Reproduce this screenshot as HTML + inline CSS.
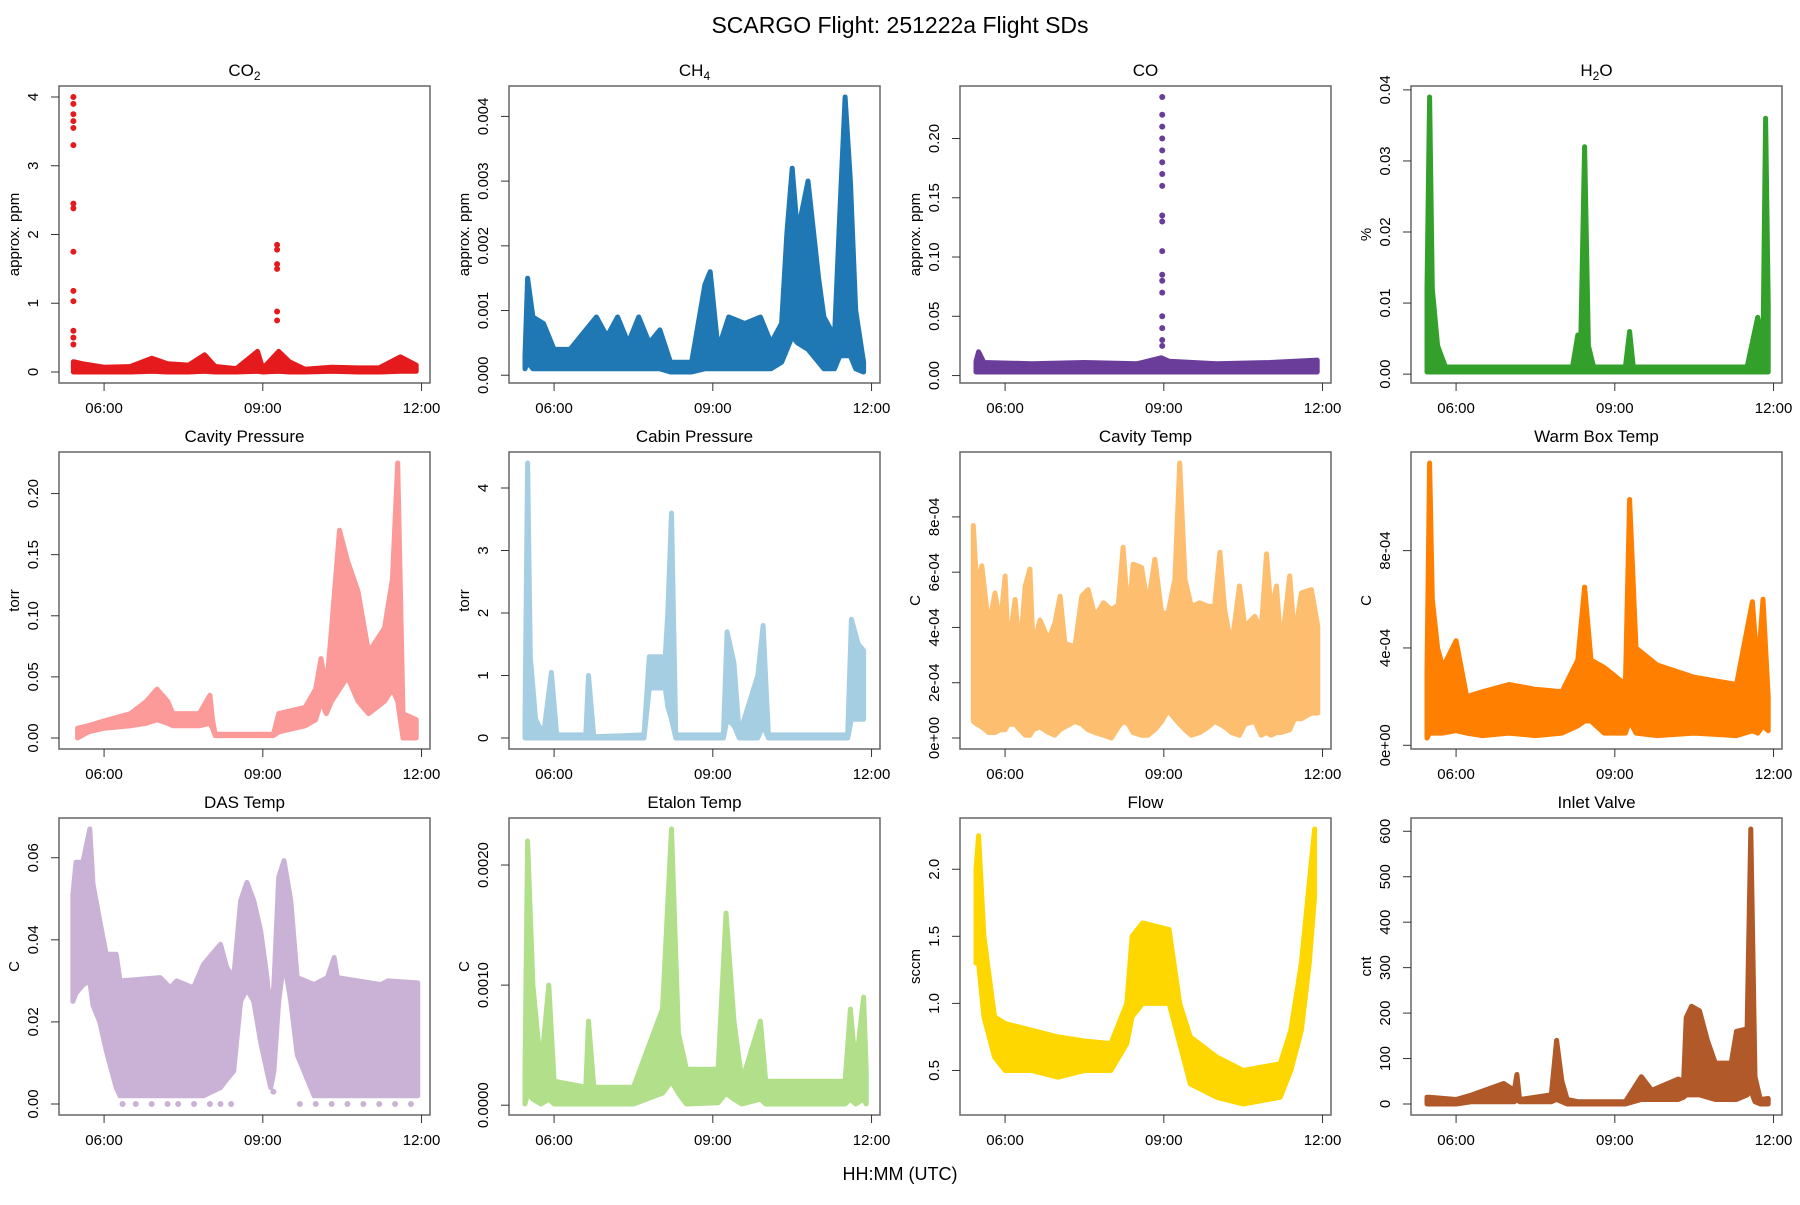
<!DOCTYPE html>
<html><head><meta charset="utf-8"><style>
body{margin:0;background:#fff;width:1800px;height:1200px;overflow:hidden}
svg{font-family:"Liberation Sans",Arial,sans-serif}
</style></head><body>
<svg id="chart" width="1800" height="1200" xmlns="http://www.w3.org/2000/svg">
<rect width="1800" height="1200" fill="#fff"/>
<text x="900" y="33" text-anchor="middle" font-size="23">SCARGO Flight: 251222a  Flight SDs</text>
<text x="900" y="1180" text-anchor="middle" font-size="18">HH:MM (UTC)</text>
</svg>
<script>
// x tick values (hours) and labels
const xTicks=[6,9,12];
const xTickLabels=["06:00","09:00","12:00"];
const panelTitles=["CO2","CH4","CO","H2O","Cavity Pressure","Cabin Pressure","Cavity Temp","Warm Box Temp","DAS Temp","Etalon Temp","Flow","Inlet Valve"];
const yLabels=["approx. ppm","approx. ppm","approx. ppm","%","torr","torr","C","C","C","C","sccm","cnt"];
const colors=["#E41A1C","#1F78B4","#6A3D9A","#33A02C","#FB9A99","#A6CEE3","#FDBF6F","#FF7F00","#CAB2D6","#B2DF8A","#FFD700","#B15928"];
const yTickVals=[[0,1,2,3,4],[0,0.001,0.002,0.003,0.004],[0,0.05,0.1,0.15,0.2],[0,0.01,0.02,0.03,0.04],[0,0.05,0.1,0.15,0.2],[0,1,2,3,4],[0,0.0002,0.0004,0.0006,0.0008],[0,0.0004,0.0008],[0,0.02,0.04,0.06],[0,0.001,0.002],[0.5,1,1.5,2],[0,100,200,300,400,500,600]];
const yTickText=[["0","1","2","3","4"],["0.000","0.001","0.002","0.003","0.004"],["0.00","0.05","0.10","0.15","0.20"],["0.00","0.01","0.02","0.03","0.04"],["0.00","0.05","0.10","0.15","0.20"],["0","1","2","3","4"],["0e+00","2e-04","4e-04","6e-04","8e-04"],["0e+00","4e-04","8e-04"],["0.00","0.02","0.04","0.06"],["0.0000","0.0010","0.0020"],["0.5","1.0","1.5","2.0"],["0","100","200","300","400","500","600"]];

// Series envelopes: time (h), low, high
const co2T=[5.42,5.6,6.0,6.5,6.9,7.2,7.6,7.9,8.1,8.5,8.9,9.0,9.3,9.5,9.8,10.3,10.8,11.2,11.6,11.9];
const co2Lo=[0,0,0,0,0.01,0,0,0.01,0,0,0.01,0,0.01,0,0,0.01,0,0,0.01,0.01];
const co2Hi=[0.15,0.12,0.07,0.08,0.2,0.12,0.1,0.25,0.08,0.05,0.3,0.05,0.3,0.15,0.04,0.07,0.06,0.06,0.22,0.1];
const co2SpkT=[5.42,5.42,5.42,5.42,5.42,5.42,5.42,5.42,5.42,5.42,5.42,5.42,5.42,5.42,9.27,9.27,9.27,9.27,9.27,9.27];
const co2SpkV=[4.0,3.9,3.75,3.65,3.55,3.3,2.45,2.38,1.75,1.18,1.03,0.6,0.5,0.4,1.85,1.78,1.57,1.5,0.88,0.75];

const ch4T=[5.45,5.5,5.6,5.8,6.0,6.3,6.5,6.8,7.0,7.2,7.4,7.6,7.8,8.0,8.2,8.6,8.85,8.95,9.1,9.3,9.6,9.9,10.1,10.3,10.4,10.5,10.6,10.8,11.0,11.1,11.3,11.4,11.5,11.6,11.7,11.85];
const ch4Lo=[0.0001,0.0002,0.0001,0.0001,0.0001,0.0001,0.0001,0.0001,0.0001,0.0001,0.0001,0.0001,0.0001,0.0001,0.00005,0.00005,0.0001,0.0001,0.0001,0.0001,0.0001,0.0001,0.0001,0.0002,0.0004,0.0006,0.0005,0.0004,0.0002,0.0001,0.0001,0.0003,0.0003,0.0003,0.0001,0.00005];
const ch4Hi=[0.0003,0.0015,0.0009,0.0008,0.0004,0.0004,0.0006,0.0009,0.0006,0.0009,0.0005,0.0009,0.0005,0.0007,0.0002,0.0002,0.0014,0.0016,0.0004,0.0009,0.0008,0.0009,0.0005,0.0008,0.0022,0.0032,0.0022,0.003,0.0015,0.0009,0.0006,0.0025,0.0043,0.003,0.001,0.0002];

const coT=[5.45,5.5,5.6,6.5,7.5,8.5,8.95,9.1,10.0,11.0,11.9];
const coLo=[0.003,0.003,0.003,0.003,0.003,0.003,0.003,0.003,0.003,0.003,0.003];
const coHi=[0.012,0.02,0.011,0.01,0.011,0.01,0.015,0.012,0.01,0.011,0.013];
const coSpkT=[8.97,8.97,8.97,8.97,8.97,8.97,8.97,8.97,8.97,8.97,8.97,8.97,8.97,8.97,8.97,8.97,8.97,8.97];
const coSpkV=[0.235,0.22,0.21,0.2,0.19,0.18,0.17,0.16,0.135,0.13,0.105,0.085,0.08,0.07,0.05,0.04,0.03,0.025];

const h2oT=[5.45,5.5,5.55,5.65,5.8,6.5,7.5,8.2,8.3,8.35,8.43,8.5,8.6,9.2,9.28,9.35,10.5,11.5,11.7,11.8,11.85,11.9];
const h2oLo=[0.0003,0.0003,0.0003,0.0003,0.0003,0.0003,0.0003,0.0003,0.0003,0.0003,0.0003,0.0003,0.0003,0.0003,0.0003,0.0003,0.0003,0.0003,0.0003,0.0003,0.0003,0.0003];
const h2oHi=[0.012,0.039,0.012,0.004,0.001,0.001,0.001,0.001,0.0055,0.002,0.032,0.004,0.001,0.001,0.006,0.001,0.001,0.001,0.008,0.004,0.036,0.01];

const cpT=[5.5,5.7,6.0,6.5,6.8,7.0,7.2,7.3,7.8,8.0,8.05,8.1,9.2,9.3,9.8,10.0,10.1,10.2,10.3,10.45,10.6,10.8,11.0,11.3,11.45,11.55,11.65,11.9];
const cpLo=[0,0.005,0.008,0.01,0.012,0.015,0.012,0.01,0.01,0.012,0.008,0.002,0.002,0.005,0.01,0.015,0.03,0.02,0.03,0.04,0.05,0.03,0.02,0.03,0.04,0.03,0,0];
const cpHi=[0.008,0.01,0.014,0.02,0.03,0.04,0.03,0.02,0.02,0.035,0.015,0.003,0.003,0.02,0.025,0.04,0.065,0.04,0.09,0.17,0.145,0.12,0.07,0.09,0.13,0.225,0.02,0.015];

const cabT=[5.45,5.5,5.55,5.65,5.8,5.95,6.05,6.6,6.65,6.75,7.7,7.8,8.1,8.15,8.22,8.3,9.2,9.27,9.4,9.5,9.85,9.95,10.05,11.55,11.62,11.75,11.85];
const cabLo=[0,0,0,0,0,0,0,0,0,0,0,0.8,0.8,0.5,0.3,0,0,0.3,0.2,0,0,0.2,0,0,0.3,0.3,0.3];
const cabHi=[0.3,4.4,1.3,0.3,0.05,1.05,0.05,0.05,1.0,0.02,0.05,1.3,1.3,2.0,3.6,0.05,0.05,1.7,1.2,0.05,1.0,1.8,0.05,0.05,1.9,1.5,1.4];

const ctT=[5.40,5.47,5.56,5.69,5.81,5.91,6.00,6.06,6.19,6.28,6.38,6.47,6.53,6.66,6.82,6.94,7.04,7.13,7.32,7.45,7.57,7.70,7.86,8.01,8.14,8.23,8.33,8.42,8.58,8.70,8.83,8.96,9.08,9.21,9.30,9.40,9.52,9.68,9.84,9.96,10.06,10.15,10.28,10.43,10.53,10.72,10.84,10.94,11.03,11.13,11.22,11.38,11.47,11.60,11.79,11.91];
const ctLo=[0.00006,0.00005,0.00004,0.00002,0.00002,0.00003,0.00003,0.00005,0.00005,0.00003,0.00001,0.00001,0.00003,0.00004,0.00002,0.00001,0.00003,0.00004,0.00006,0.00005,0.00003,0.00002,0.00001,0.0,0.00004,0.00006,0.00005,0.00002,0.00001,0.00001,0.00003,0.00006,0.0001,0.00007,0.00005,0.00003,0.00001,0.00002,0.00004,0.00006,0.00005,0.00004,0.00002,0.00001,0.00005,0.00006,0.00001,0.00002,0.00001,0.00002,0.00002,0.00003,0.00007,0.00007,0.00009,0.00009];
const ctHi=[0.000769,0.000537,0.000623,0.000403,0.000525,0.000403,0.000586,0.000318,0.000501,0.000305,0.00055,0.000611,0.00033,0.000427,0.000354,0.000415,0.000513,0.000342,0.00033,0.000513,0.000537,0.00044,0.000489,0.000464,0.000482,0.00069,0.000427,0.000629,0.000617,0.000476,0.000647,0.000452,0.000452,0.000574,0.000995,0.000574,0.000476,0.000489,0.000476,0.000476,0.000672,0.000464,0.00033,0.00055,0.000403,0.00044,0.000391,0.000666,0.000452,0.00055,0.000318,0.000586,0.000366,0.000525,0.000537,0.000403];

const wbT=[5.45,5.5,5.55,5.65,5.75,6.0,6.2,6.5,7.0,7.5,8.0,8.3,8.43,8.55,8.8,9.2,9.28,9.4,9.8,10.5,11.3,11.6,11.7,11.8,11.9];
const wbLo=[0.00003,0.00005,0.00005,0.00005,0.00005,0.00006,0.00005,0.00004,0.00005,0.00004,0.00005,0.00008,0.0001,0.0001,0.00005,0.00005,0.0001,0.00005,0.00004,0.00005,0.00004,0.00006,0.00005,0.00008,0.00006];
const wbHi=[0.0003,0.00116,0.0006,0.0004,0.00032,0.00043,0.0002,0.00022,0.00025,0.00023,0.00022,0.00035,0.00065,0.00035,0.00032,0.00025,0.00101,0.0004,0.00033,0.00028,0.00025,0.00059,0.0003,0.0006,0.0002];

const dasT=[5.41,5.47,5.60,5.73,5.79,5.92,6.04,6.23,6.30,7.06,7.25,7.37,7.69,7.88,8.20,8.32,8.45,8.58,8.70,8.83,8.96,9.08,9.15,9.21,9.30,9.40,9.53,9.65,9.97,10.22,10.35,10.41,11.23,11.36,11.93];
const dasLo=[0.025,0.027,0.029,0.030,0.024,0.02,0.013,0.004,0.002,0.002,0.002,0.002,0.002,0.002,0.004,0.006,0.008,0.025,0.028,0.025,0.015,0.008,0.004,0.008,0.025,0.035,0.025,0.012,0.002,0.002,0.002,0.002,0.002,0.002,0.002];
const dasHi=[0.0511,0.0589,0.0589,0.067,0.0536,0.0446,0.0365,0.0365,0.03,0.0308,0.0283,0.03,0.0283,0.034,0.0389,0.0332,0.0308,0.0495,0.054,0.0495,0.0422,0.0308,0.021,0.0291,0.0552,0.0593,0.0495,0.0308,0.0291,0.0308,0.0357,0.0308,0.0291,0.03,0.0295];
const dasSpkT=[6.35,6.6,6.9,7.2,7.4,7.7,8.0,8.2,8.4,9.2,9.7,10.0,10.3,10.6,10.9,11.2,11.5,11.8];
const dasSpkV=[0,0,0,0,0,0,0,0,0,0.003,0,0,0,0,0,0,0,0];

const etT=[5.45,5.5,5.6,5.75,5.9,6.0,6.6,6.65,6.75,7.5,8.05,8.22,8.35,8.5,9.1,9.25,9.4,9.55,9.9,10.0,11.5,11.6,11.7,11.85,11.9];
const etLo=[0.00001,0.0001,0.00005,0.00001,0.00005,0.00001,0.00001,0.00001,0.00001,0.00001,0.0001,0.0002,0.0001,0.00001,0.00002,0.0001,0.00005,0.00001,0.00005,0.00001,0.00001,0.00005,0.00001,0.00005,0.00001];
const etHi=[0.0003,0.0022,0.001,0.0003,0.001,0.0002,0.00015,0.0007,0.00015,0.00015,0.0008,0.0023,0.0006,0.0003,0.0003,0.0016,0.0007,0.0002,0.0007,0.0002,0.0002,0.0008,0.0003,0.0009,0.0003];

const flT=[5.45,5.5,5.6,5.8,6.0,6.5,7.0,7.5,8.0,8.3,8.4,8.6,9.1,9.3,9.5,10.0,10.5,11.2,11.4,11.6,11.75,11.85];
const flLo=[1.3,1.3,0.9,0.6,0.5,0.5,0.45,0.5,0.5,0.7,0.9,1.0,1.0,0.7,0.4,0.3,0.25,0.3,0.5,0.8,1.3,1.8];
const flHi=[2.0,2.25,1.5,0.9,0.85,0.8,0.75,0.72,0.7,1.0,1.5,1.6,1.55,1.0,0.75,0.6,0.5,0.55,0.8,1.3,1.9,2.3];

const ivT=[5.45,5.5,6.0,6.3,6.9,7.1,7.15,7.2,7.8,7.9,8.0,8.1,8.3,9.2,9.5,9.7,10.0,10.2,10.3,10.35,10.45,10.6,10.75,10.9,11.2,11.3,11.5,11.57,11.65,11.75,11.9];
const ivLo=[0,0,0,5,5,5,10,5,5,10,5,0,0,0,10,10,10,10,15,20,20,20,15,10,10,10,20,30,5,0,0];
const ivHi=[15,15,10,20,45,30,65,10,20,140,50,10,5,5,60,30,45,55,50,190,215,205,140,90,90,160,165,605,60,10,12];

const series=[[co2T,co2Lo,co2Hi,co2SpkT,co2SpkV],[ch4T,ch4Lo,ch4Hi],[coT,coLo,coHi,coSpkT,coSpkV],[h2oT,h2oLo,h2oHi],[cpT,cpLo,cpHi],[cabT,cabLo,cabHi],[ctT,ctLo,ctHi],[wbT,wbLo,wbHi],[dasT,dasLo,dasHi,dasSpkT,dasSpkV],[etT,etLo,etHi],[flT,flLo,flHi],[ivT,ivLo,ivHi]];

const NS="http://www.w3.org/2000/svg";
const svg=document.getElementById('chart');
function mk(tag,attrs,parent){const e=document.createElementNS(NS,tag);for(const k in attrs)e.setAttribute(k,attrs[k]);(parent||svg).appendChild(e);return e;}
const colX=[59,509,960,1411], rowY=[86,452,818], PW=371, PH=297;
const xMin=5.148, xMax=12.16;

series.forEach((s,i)=>{
  const L=colX[i%4], T=rowY[Math.floor(i/4)];
  const g=mk('g',{});
  
  
  const [t,lo,hi,st,sv]=s;
  let all=lo.concat(hi).concat(sv||[]);
  let mn=Math.min(...all), mx=Math.max(...all), pad=(mx-mn)*0.04;
  const y0=mn-pad, y1=mx+pad;
  const X=v=>L+(v-xMin)/(xMax-xMin)*PW;
  const Y=v=>T+PH-(v-y0)/(y1-y0)*PH;
  let pts=t.map((v,k)=>X(v).toFixed(1)+','+Y(hi[k]).toFixed(1));
  for(let k=t.length-1;k>=0;k--)pts.push(X(t[k]).toFixed(1)+','+Y(lo[k]).toFixed(1));
  const band=mk('polygon',{points:pts.join(' '),fill:colors[i],stroke:colors[i],'stroke-width':5,'stroke-linejoin':'round'},g);
  
  
  if(st){st.forEach((tv,k)=>{
    const c=mk('circle',{cx:X(tv),cy:Y(sv[k]),r:3,fill:colors[i]},g);
    
    
  });}
  const box=mk('rect',{x:L,y:T,width:PW,height:PH,fill:'none',stroke:'#666','stroke-width':1.5},g);
  
  
  xTicks.forEach((v,k)=>{
    mk('line',{x1:X(v),x2:X(v),y1:T+PH,y2:T+PH+8,stroke:'#333','stroke-width':1},g);
    const tx=mk('text',{x:X(v),y:T+PH+30,'text-anchor':'middle','font-size':15},g);
    tx.textContent=xTickLabels[k];
    
    
  });
  yTickVals[i].forEach((v,k)=>{
    const yy=Y(v);
    mk('line',{x1:L-8,x2:L,y1:yy,y2:yy,stroke:'#333','stroke-width':1},g);
    const tx=mk('text',{x:L-21,y:yy,'text-anchor':'middle','font-size':15,transform:`rotate(-90 ${L-21} ${yy})`},g);
    tx.textContent=yTickText[i][k];
    
    
  });
  const yl=mk('text',{x:L-40,y:T+PH/2,'text-anchor':'middle','font-size':15,transform:`rotate(-90 ${L-40} ${T+PH/2})`},g);
  yl.textContent=yLabels[i];
  
  
  const ti=mk('text',{x:L+PW/2,y:T-10,'text-anchor':'middle','font-size':17},g);
  const m=panelTitles[i].match(/^(CO|CH|H)(\d)(.*)$/);
  if(m){ti.appendChild(document.createTextNode(m[1]));const sb=mk('tspan',{'font-size':12,dy:4},ti);sb.textContent=m[2];if(m[3]){const r=mk('tspan',{dy:-4},ti);r.textContent=m[3];}}
  else ti.textContent=panelTitles[i];
  
  
});
</script>
</body></html>
